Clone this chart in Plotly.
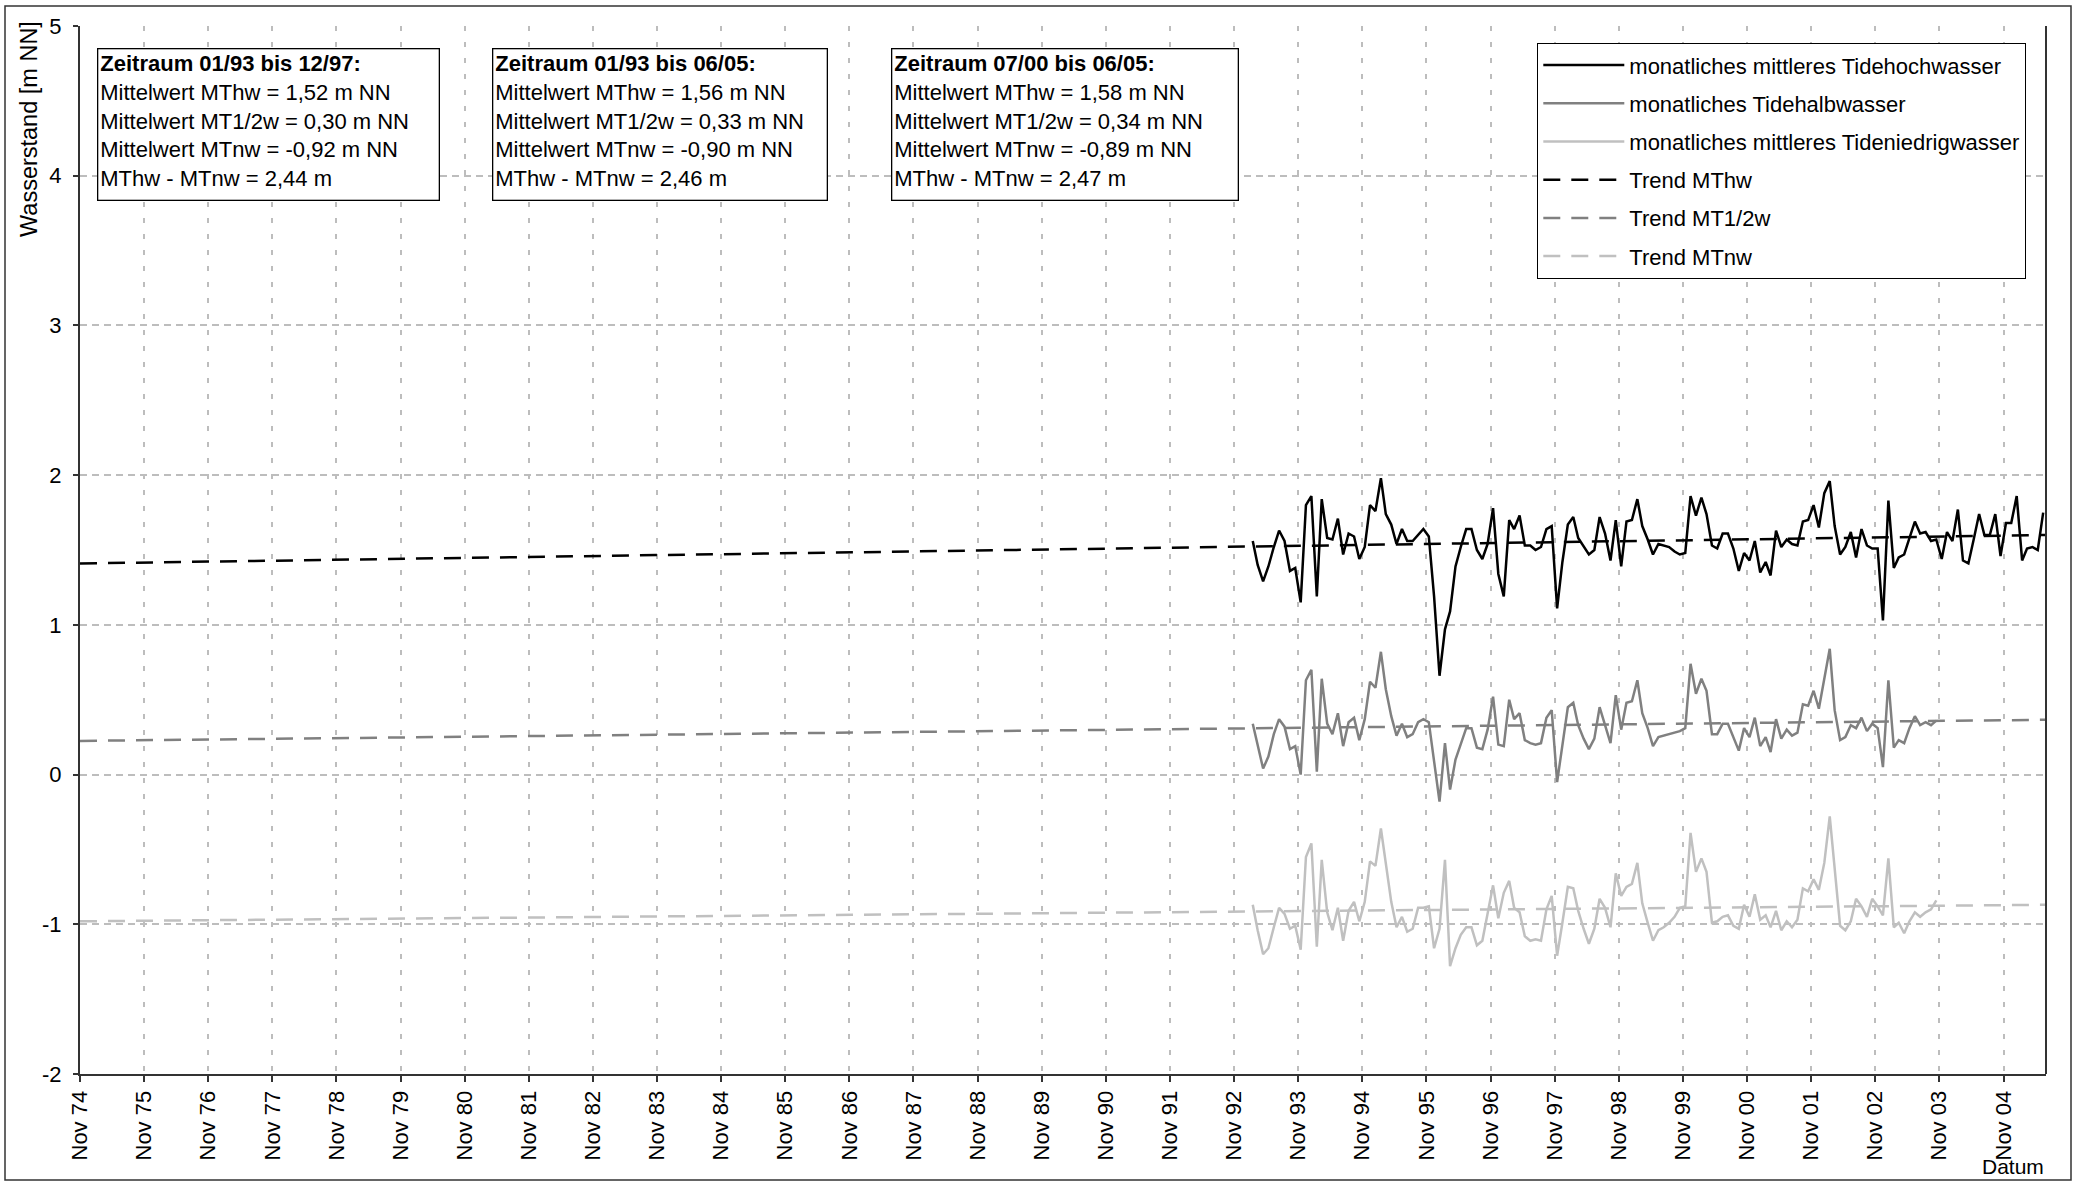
import pandas as pd
import plotly.graph_objects as go

# ---------------- data ----------------
series_names = [
    "monatliches mittleres Tidehochwasser",
    "monatliches Tidehalbwasser",
    "monatliches mittleres Tideniedrigwasser",
]
trend_names = ["Trend MThw", "Trend MT1/2w", "Trend MTnw"]

mthw = [1.56, 1.40, 1.29, 1.39, 1.52, 1.63, 1.56, 1.36, 1.38, 1.15,
        1.80, 1.86, 1.19, 1.84, 1.58, 1.57, 1.71, 1.47, 1.61, 1.59,
        1.44, 1.52, 1.80, 1.76, 1.98, 1.74, 1.67, 1.54, 1.64, 1.56,
        1.56, 1.60, 1.64, 1.59, 1.19, 0.66, 0.97, 1.09, 1.39, 1.52,
        1.64, 1.64, 1.50, 1.44, 1.54, 1.78, 1.34, 1.19, 1.70, 1.64,
        1.73, 1.53, 1.53, 1.50, 1.52, 1.64, 1.66, 1.11, 1.42, 1.67,
        1.72, 1.58, 1.52, 1.47, 1.50, 1.72, 1.61, 1.43, 1.70, 1.39,
        1.69, 1.70, 1.84, 1.66, 1.57, 1.47, 1.54, 1.53, 1.52, 1.49,
        1.47, 1.48, 1.86, 1.73, 1.85, 1.74, 1.53, 1.51, 1.61, 1.61,
        1.51, 1.36, 1.48, 1.43, 1.56, 1.35, 1.42, 1.33, 1.63, 1.52,
        1.57, 1.54, 1.53, 1.69, 1.70, 1.80, 1.65, 1.88, 1.96, 1.66,
        1.47, 1.52, 1.62, 1.45, 1.64, 1.53, 1.51, 1.51, 1.03, 1.83,
        1.38, 1.45, 1.47, 1.58, 1.69, 1.61, 1.62, 1.56, 1.57, 1.44,
        1.62, 1.56, 1.77, 1.43, 1.41, 1.57, 1.74, 1.60, 1.60, 1.74,
        1.46, 1.68, 1.68, 1.86, 1.43, 1.51, 1.52, 1.50, 1.75]

mt12w = [0.34, 0.19, 0.04, 0.12, 0.27, 0.37, 0.32, 0.17, 0.19, 0.00,
         0.63, 0.70, 0.02, 0.64, 0.34, 0.27, 0.41, 0.19, 0.35, 0.38,
         0.23, 0.37, 0.62, 0.58, 0.82, 0.57, 0.39, 0.26, 0.34, 0.25,
         0.27, 0.35, 0.37, 0.35, 0.10, -0.18, 0.21, -0.10, 0.10, 0.21,
         0.31, 0.31, 0.18, 0.17, 0.30, 0.52, 0.20, 0.19, 0.50, 0.37,
         0.41, 0.23, 0.21, 0.20, 0.21, 0.38, 0.43, -0.05, 0.20, 0.45,
         0.48, 0.33, 0.24, 0.17, 0.24, 0.45, 0.33, 0.21, 0.53, 0.30,
         0.48, 0.49, 0.63, 0.41, 0.31, 0.19, 0.25, 0.26, 0.27, 0.28,
         0.29, 0.31, 0.74, 0.54, 0.64, 0.56, 0.27, 0.27, 0.34, 0.34,
         0.25, 0.16, 0.31, 0.25, 0.38, 0.19, 0.25, 0.15, 0.37, 0.24,
         0.30, 0.26, 0.28, 0.47, 0.46, 0.56, 0.44, 0.64, 0.84, 0.43,
         0.23, 0.25, 0.33, 0.31, 0.38, 0.29, 0.34, 0.31, 0.05, 0.63,
         0.18, 0.23, 0.21, 0.31, 0.39, 0.33, 0.35, 0.33, 0.36]

mtnw = [-0.87, -1.04, -1.20, -1.16, -1.02, -0.89, -0.93, -1.03, -1.01, -1.17,
        -0.55, -0.46, -1.15, -0.57, -0.92, -1.04, -0.89, -1.11, -0.91, -0.85,
        -0.98, -0.85, -0.58, -0.61, -0.36, -0.60, -0.85, -1.02, -0.95, -1.05,
        -1.03, -0.89, -0.89, -0.88, -1.16, -1.03, -0.57, -1.28, -1.16, -1.07,
        -1.02, -1.02, -1.14, -1.11, -0.92, -0.74, -0.96, -0.79, -0.71, -0.89,
        -0.92, -1.08, -1.11, -1.10, -1.11, -0.90, -0.81, -1.21, -0.99, -0.75,
        -0.76, -0.91, -1.03, -1.13, -1.03, -0.83, -0.89, -1.02, -0.66, -0.81,
        -0.75, -0.73, -0.59, -0.86, -0.99, -1.11, -1.04, -1.02, -0.99, -0.95,
        -0.89, -0.88, -0.39, -0.65, -0.56, -0.65, -0.99, -0.98, -0.95, -0.94,
        -1.01, -1.03, -0.87, -0.95, -0.80, -0.97, -0.94, -1.02, -0.91, -1.04,
        -0.98, -1.02, -0.97, -0.76, -0.78, -0.70, -0.77, -0.59, -0.28, -0.62,
        -1.01, -1.04, -0.98, -0.83, -0.88, -0.95, -0.83, -0.88, -0.94, -0.56,
        -1.02, -0.99, -1.06, -0.98, -0.92, -0.95, -0.92, -0.90, -0.84]

first_month = "1993-02-01"          # first monthly value
axis_start = "1974-11-01"
axis_end = "2005-07-01"
trend_start = [1.41, 0.225, -0.98]  # trend values at axis start
trend_end = [1.60, 0.366, -0.87]    # trend values at axis end

tick_years = list(range(1974, 2005))
tick_dates = [f"{y}-11-01" for y in tick_years]
tick_labels = [f"Nov {y % 100:02d}" for y in tick_years]
y_ticks = list(range(-2, 6))
y_tick_labels = [str(v) for v in y_ticks]

box_texts = [
    ["<b>Zeitraum 01/93 bis 12/97:</b>", "Mittelwert MThw = 1,52 m NN",
     "Mittelwert MT1/2w = 0,30 m NN", "Mittelwert MTnw = -0,92 m NN", "MThw - MTnw = 2,44 m"],
    ["<b>Zeitraum 01/93 bis 06/05:</b>", "Mittelwert MThw = 1,56 m NN",
     "Mittelwert MT1/2w = 0,33 m NN", "Mittelwert MTnw = -0,90 m NN", "MThw - MTnw = 2,46 m"],
    ["<b>Zeitraum 07/00 bis 06/05:</b>", "Mittelwert MThw = 1,58 m NN",
     "Mittelwert MT1/2w = 0,34 m NN", "Mittelwert MTnw = -0,89 m NN", "MThw - MTnw = 2,47 m"],
]

# ---------------- styling ----------------
W, H = 2074, 1182
L, R, T, B = 80, 2046, 26, 1074     # plot area in pixels
FONT = "Liberation Sans, Arial, sans-serif"
FS = 22
colors = ["#000000", "#808080", "#c0c0c0"]
grid_col = "#bdbdbd"


def px_x(px):
    return (px - L) / (R - L)


def px_y(py):
    return (B - py) / (B - T)


def month_dates(n):
    return pd.date_range(first_month, periods=n, freq="MS") + pd.Timedelta(days=14)


fig = go.Figure()
for i, (name, vals) in enumerate(zip(series_names, [mthw, mt12w, mtnw])):
    fig.add_trace(go.Scatter(
        x=month_dates(len(vals)), y=vals, mode="lines", name=name,
        legendgroup=f"g{i}",
        line=dict(color=colors[i], width=2.5),
    ))
for i, name in enumerate(trend_names):
    fig.add_trace(go.Scatter(
        x=[axis_start, axis_end], y=[trend_start[i], trend_end[i]], mode="lines",
        name=name, legendgroup=f"t{i}",
        line=dict(color=colors[i], width=2.5, dash="17px,11px"),
    ))

annotations = []
box_left_px = [97, 492, 891]
box_w_px = [342, 335, 347]
for left, w, lines in zip(box_left_px, box_w_px, box_texts):
    annotations.append(dict(
        xref="paper", yref="paper", x=px_x(left), y=px_y(48),
        xanchor="left", yanchor="top", align="left", valign="top",
        text="<br>".join(lines), showarrow=False,
        width=w - 6, height=146, borderpad=2,
        bgcolor="white", bordercolor="#000000", borderwidth=1.3,
        font=dict(family=FONT, size=FS, color="black"),
    ))
annotations.append(dict(
    xref="paper", yref="paper", x=1.0, y=px_y(1166), xanchor="right", yanchor="middle",
    text="Datum", showarrow=False, font=dict(family=FONT, size=21, color="black"),
))
annotations.append(dict(
    xref="paper", yref="paper", x=px_x(29), y=px_y(19), xanchor="center", yanchor="top",
    text="Wasserstand [m NN]", textangle=-90, showarrow=False,
    font=dict(family=FONT, size=23.5, color="black"),
))

shapes = [
    # right border of the plot area
    dict(type="line", xref="paper", yref="paper", x0=1, x1=1, y0=0, y1=1,
         line=dict(color="#333333", width=2)),
    # outer frame of the chart
    dict(type="rect", xref="paper", yref="paper",
         x0=px_x(5), x1=px_x(2071), y0=px_y(1180), y1=px_y(6),
         line=dict(color="#333333", width=1.5), layer="below"),
]

fig.update_layout(
    width=W, height=H,
    margin=dict(l=L, r=W - R, t=T, b=H - B),
    paper_bgcolor="white", plot_bgcolor="white",
    font=dict(family=FONT, size=FS, color="black"),
    showlegend=True,
    legend=dict(
        x=px_x(1537), y=px_y(43), xanchor="left", yanchor="top",
        bgcolor="white", bordercolor="#000000", borderwidth=1.3,
        font=dict(family=FONT, size=FS, color="black"),
        traceorder="grouped", tracegroupgap=6.6, itemwidth=81,
    ),
    annotations=annotations,
    shapes=shapes,
    xaxis=dict(
        type="date", range=[axis_start, axis_end],
        tickmode="array", tickvals=tick_dates, ticktext=tick_labels,
        tickangle=-90, tickfont=dict(family=FONT, size=FS, color="black"),
        showgrid=True, gridcolor=grid_col, gridwidth=2, griddash="5px,11px",
        showline=True, linecolor="#333333", linewidth=2,
        ticks="outside", ticklen=6, tickcolor="#333333", tickwidth=1.5,
        zeroline=False,
    ),
    yaxis=dict(
        range=[-2, 5], tickmode="array", tickvals=y_ticks, ticktext=y_tick_labels,
        tickfont=dict(family=FONT, size=FS, color="black"),
        showgrid=True, gridcolor=grid_col, gridwidth=2, griddash="7px,5px",
        showline=True, linecolor="#333333", linewidth=2,
        ticks="outside", ticklen=5, tickcolor="#333333", tickwidth=1.5,
        zeroline=False, ticklabelstandoff=7,
    ),
)

fig.write_html("out.html", config={"displayModeBar": False},
               post_script="document.body.style.margin='0px';")
